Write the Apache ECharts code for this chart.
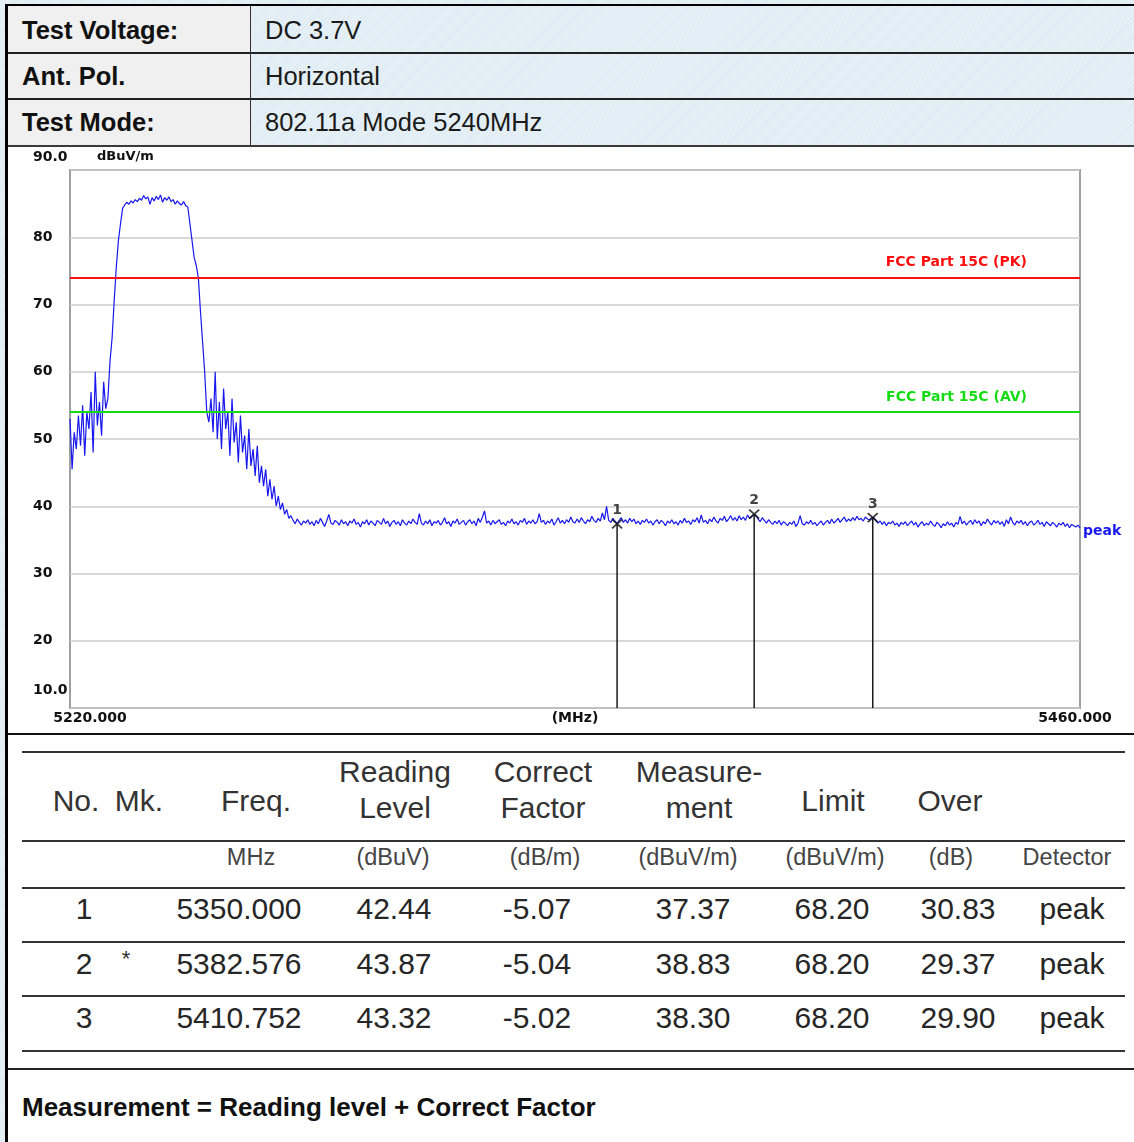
<!DOCTYPE html>
<html>
<head>
<meta charset="utf-8">
<script src="https://cdn.jsdelivr.net/npm/echarts@6/dist/echarts.min.js"></script>
<style>
  html, body { margin: 0; padding: 0; }
  body {
    width: 1134px; height: 1142px; position: relative; overflow: hidden;
    background-color: #e6f1f7;
    background-image: repeating-linear-gradient(135deg, rgba(170,192,205,0.14) 0 1px, transparent 1px 3px);
    font-family: Arial, "Liberation Sans", sans-serif;
  }
  .box { position: absolute; }
  .txt { position: absolute; white-space: nowrap; transform: translate(-50%, -50%); }
  .ltxt { position: absolute; white-space: nowrap; transform: translateY(-50%); }
  #chart { position: absolute; left: 8px; top: 147px; width: 1126px; height: 586px; z-index: 10; }
</style>
</head>
<body>
<div id="page"></div>
<div id="chart"></div>
<script>
// ---- test setup ----
const headerLabels = ['Test Voltage:', 'Ant. Pol.', 'Test Mode:'];
const headerValues = ['DC 3.7V', 'Horizontal', '802.11a Mode 5240MHz'];

// ---- sweep: 5220 - 5460 MHz, peak detector trace ----
const freqStart = 5220;
const freqStop = 5460;
const freqStep = 0.5;
// band edge / channel region (5220 - 5272.5 MHz)
const bandLevels = [
  53.0, 45.5, 51.0, 48.5, 53.5, 49.0, 55.0, 47.5, 54.0, 51.5, 57.0, 48.0, 60.0, 52.0, 55.5, 50.5, 58.5, 54.5,
  56.0, 61.5, 65.0, 70.5, 75.5, 79.5, 82.0, 84.3,
  84.8, 85.2, 84.9, 85.4, 85.1, 85.6, 85.3, 85.8, 85.5, 86.2, 85.7, 86.0, 84.9, 85.9, 85.4,
  86.1, 85.6, 86.3, 85.2, 85.9, 85.5, 86.0, 85.3, 85.6, 84.9, 85.4, 85.0, 84.8, 85.3, 84.7,
  84.5, 82.0, 79.5, 77.0, 75.8, 74.0, 69.0, 64.5, 60.0, 54.0,
  52.5, 56.0, 51.0, 60.0, 50.0, 55.5, 48.5, 57.5, 51.5, 54.0,
  47.5, 56.0, 49.5, 52.5, 46.5, 53.5, 48.0, 50.5, 45.5, 51.5,
  46.0, 48.5, 44.5, 49.0, 43.5, 46.0, 43.0, 45.5, 41.5, 44.0,
  41.0, 43.0, 40.0, 41.5, 39.5, 40.5, 38.8, 39.5, 38.2, 38.6
];
// noise floor (5273 - 5460 MHz)
const floorLevels = [
  37.9, 37.4, 38.1, 37.6, 37.2, 37.8, 37.5, 38.0, 37.3, 37.7, 37.1, 37.9, 37.4, 38.2, 37.6,
  37.0, 37.8, 38.8, 37.5, 37.3, 37.9, 37.6, 37.2, 38.0, 37.4, 37.7, 37.1, 37.8, 37.5, 38.1,
  37.3, 37.6, 36.9, 37.7, 37.4, 38.0, 37.2, 37.8, 37.5, 37.1, 37.9, 37.6, 37.3, 38.2, 37.4,
  37.8, 37.0, 37.6, 37.9, 37.3, 37.7, 37.1, 38.0, 37.5, 37.2, 37.8, 37.4, 38.1, 37.6, 37.3,
  38.9, 37.5, 37.2, 37.8, 37.4, 38.0, 37.1, 37.7, 37.5, 37.9, 37.2, 37.6, 38.3, 37.4, 37.7,
  37.0, 37.8, 37.5, 38.1, 37.3, 37.6, 37.9, 37.2, 37.7, 38.0, 37.4, 37.8, 37.1, 38.2, 37.6,
  38.4, 39.3, 37.5, 37.8, 37.2, 37.9, 37.4, 37.7, 38.0, 37.3, 37.6, 37.1, 37.8, 37.5, 38.1,
  37.4, 37.7, 37.2, 37.9, 37.6, 38.2, 37.3, 37.8, 37.5, 38.0, 37.4, 37.7, 38.9, 37.6, 37.9,
  37.3, 37.8, 37.5, 38.1, 37.2, 37.7, 38.3, 37.5, 37.9, 37.4, 38.0, 37.6, 38.4, 37.7, 37.5,
  38.1, 37.6, 38.3, 37.8, 37.4, 38.0, 37.7, 38.5, 37.9, 37.6, 38.2, 37.8, 39.0, 38.0, 40.0,
  37.9, 37.6, 38.2, 37.8, 37.4, 37.9, 38.3, 37.6, 38.0, 37.5, 38.2, 37.7, 38.1, 37.4, 37.8,
  37.3, 37.9, 37.6, 38.1, 37.5, 37.8, 37.2, 37.7, 38.0, 37.4, 37.9, 37.6, 37.1, 37.8, 37.5,
  38.0, 37.4, 37.7, 37.2, 37.9, 37.5, 38.2, 37.6, 37.8, 37.3, 38.0, 37.7, 38.3, 37.5, 38.7,
  37.6, 37.9, 37.4, 38.1, 37.7, 38.4, 37.8, 37.5, 38.2, 37.9, 38.5, 37.7, 38.1, 38.6, 37.9,
  38.3, 37.8, 38.6, 38.0, 38.4, 37.9, 38.7, 38.2, 38.5, 38.8, 38.6, 38.1, 37.7, 38.3, 37.9,
  37.5, 38.0, 37.6, 37.3, 37.8, 37.4, 37.9, 37.2, 37.7, 37.5, 37.1, 37.6, 37.3, 37.8, 37.0,
  37.5, 38.6, 37.4, 37.2, 37.7, 37.4, 37.9, 37.3, 37.6, 37.1, 37.5, 37.8, 37.2, 37.6, 37.9,
  37.4, 38.1, 37.5, 37.8, 38.2, 37.6, 38.0, 38.4, 37.7, 38.1, 37.8, 38.3, 37.9, 38.5, 38.0,
  38.2, 37.8, 38.4, 38.1, 38.0, 38.3, 38.3, 37.9, 37.5, 37.8, 37.3, 37.7, 37.1, 37.6, 37.4,
  37.8, 37.2, 37.5, 37.0, 37.6, 37.3, 37.7, 37.1, 37.5, 37.8, 37.2, 37.6, 36.9, 37.4, 37.7,
  37.1, 37.5, 37.2, 37.8, 37.3, 37.0, 37.6, 37.3, 36.8, 37.4, 37.1, 37.7, 37.2, 37.5, 36.9,
  37.6, 37.3, 38.5, 37.4, 37.8, 37.2, 37.6, 37.9, 37.3, 38.0, 37.5, 37.8, 37.1, 37.7, 37.4,
  38.1, 37.6, 37.2, 37.9, 37.5, 37.8, 37.3, 37.7, 37.0, 38.0, 37.4, 38.4, 37.6, 37.2, 37.8,
  37.5, 37.9, 37.3, 37.7, 37.1, 37.6, 37.8, 37.2, 37.5, 37.9, 37.3, 37.6, 37.0, 37.7, 37.4,
  37.1, 37.6, 37.3, 36.9, 37.5, 37.2, 37.6, 37.0, 37.4, 36.8, 37.3, 37.1, 36.9, 37.2, 36.8
];

// ---- limits (dBuV/m) ----
const limitPK = 74;
const limitAV = 54;
const limitPKName = 'FCC Part 15C (PK)';
const limitAVName = 'FCC Part 15C (AV)';

// ---- axis ----
const yMin = 10, yMax = 90, yStep = 10;
const yUnit = 'dBuV/m';
const xUnit = '(MHz)';
const traceName = 'peak';

// ---- marker table ----
const tableHeader = ['No.', 'Mk.', 'Freq.', 'Reading\nLevel', 'Correct\nFactor', 'Measure-\nment', 'Limit', 'Over', ''];
const tableUnits = ['', '', 'MHz', '(dBuV)', '(dB/m)', '(dBuV/m)', '(dBuV/m)', '(dB)', 'Detector'];
const markerNo = ['1', '2', '3'];
const markerMk = ['', '*', ''];
const markerFreq = [5350.000, 5382.576, 5410.752];
const readingLevel = [42.44, 43.87, 43.32];
const correctFactor = [-5.07, -5.04, -5.02];
const measurement = [37.37, 38.83, 38.30];
const limitLevel = [68.20, 68.20, 68.20];
const overMargin = [30.83, 29.37, 29.90];
const detector = ['peak', 'peak', 'peak'];
const footnote = 'Measurement = Reading level + Correct Factor';

// ================= page layout =================
const page = document.getElementById('page');
function box(l, t, w, h, bg, z) {
  const d = document.createElement('div');
  d.className = 'box';
  d.style.cssText = `left:${l}px;top:${t}px;width:${w}px;height:${h}px;background:${bg};z-index:${z || 1}`;
  page.appendChild(d);
  return d;
}
function text(str, x, y, css, cls) {
  const d = document.createElement('div');
  d.className = cls || 'txt';
  d.style.cssText = `left:${x}px;top:${y}px;z-index:5;` + css;
  d.textContent = str;
  page.appendChild(d);
  return d;
}

// header block
const rowTop = [6, 53, 99];
const rowH = [46, 45, 46];
const rowMid = [30, 76, 122];
rowTop.forEach((t, i) => box(8, t, 242, rowH[i], '#f0f0f0'));
box(5, 4, 1129, 2, '#000', 3);           // top frame
box(5, 4, 3, 1138, '#000', 3);           // left frame
box(8, 52, 1126, 1.5, '#222', 3);
box(8, 98, 1126, 1.5, '#222', 3);
box(8, 145, 1126, 2, '#3a3a3a', 3);
box(250, 6, 1.3, 139, '#333', 3);
headerLabels.forEach((s, i) => text(s, 22, rowMid[i], 'font-weight:bold;font-size:25.5px;color:#111;', 'ltxt'));
headerValues.forEach((s, i) => text(s, 265, rowMid[i], 'font-size:25.5px;color:#1a1a1a;', 'ltxt'));

// white panels for chart and table
box(8, 147, 1126, 586, '#fff');
box(8, 733, 1126, 1.5, '#111', 3);
box(8, 734.5, 1126, 408, '#fff');
box(8, 1068, 1126, 1.5, '#222', 3);

// table rules
[751, 840, 887, 941, 995, 1050].forEach(y => box(22, y, 1103, 1.6, '#333', 3));

// table text
const headCx = [76, 139, 256, 395, 543, 699, 833, 950, 1067];
const unitCx = [76, 139, 251, 393, 545, 688, 835, 951, 1067];
const dataCx = [84, 126, 239, 394, 537, 693, 832, 958, 1072];
const rowCy = [909, 964, 1018];
tableHeader.forEach((s, i) => {
  if (!s) return;
  const lines = s.split('\n');
  if (lines.length === 1) {
    text(s, headCx[i], 801, 'font-size:30px;color:#333;');
  } else {
    lines.forEach((ln, k) => text(ln, headCx[i], 772 + k * 36, 'font-size:30px;color:#333;'));
  }
});
tableUnits.forEach((s, i) => { if (s) text(s, unitCx[i], 857, 'font-size:23.5px;color:#444;'); });
markerNo.forEach((n, r) => {
  const cells = [n, markerMk[r], markerFreq[r].toFixed(3), readingLevel[r].toFixed(2),
    correctFactor[r].toFixed(2), measurement[r].toFixed(2), limitLevel[r].toFixed(2),
    overMargin[r].toFixed(2), detector[r]];
  cells.forEach((c, i) => {
    if (!c) return;
    const css = i === 1 ? 'font-size:22px;color:#333;margin-top:-5px;' : 'font-size:30px;color:#262626;';
    text(c, dataCx[i], rowCy[r], css);
  });
});
text(footnote, 22, 1107, 'font-weight:bold;font-size:26px;color:#111;', 'ltxt');

// ================= chart =================
const levels = bandLevels.concat(floorLevels);
const trace = levels.map((v, i) => [freqStart + i * freqStep, v]);
const axisFont = { fontFamily: 'DejaVu Sans', fontWeight: 'bold', fontSize: 14, color: '#111' };

function limitSeries(name, value, color) {
  return {
    name: name, type: 'line', data: [], z: 4, silent: true,
    markLine: {
      silent: true, symbol: 'none', animation: false,
      lineStyle: { color: color, width: 2, type: 'solid' },
      label: {
        show: true, position: 'insideEndTop', formatter: name, distance: 8,
        padding: [0, 45, 0, 0], color: color,
        fontFamily: 'DejaVu Sans', fontWeight: 'bold', fontSize: 14
      },
      data: [{ yAxis: value }]
    }
  };
}

const stems = markerFreq.map((f, i) => ({
  name: 'marker ' + markerNo[i], type: 'line', silent: true, z: 5,
  showSymbol: false, symbol: 'none',
  lineStyle: { color: '#1a1a1a', width: 1.5 },
  data: [[f, yMin], [f, measurement[i]]]
}));

const chart = echarts.init(document.getElementById('chart'), null, { renderer: 'canvas' });
chart.setOption({
  animation: false,
  grid: {
    left: 62, top: 23, right: 54, bottom: 25,
    outerBoundsMode: 'none', containLabel: false,
    show: true, borderColor: '#a0a0a0', borderWidth: 2, backgroundColor: '#fff'
  },
  xAxis: {
    type: 'value', min: freqStart, max: freqStop,
    axisLine: { show: false }, axisTick: { show: false }, splitLine: { show: false },
    axisLabel: Object.assign({
      customValues: [freqStart, freqStop], margin: 3,
      formatter: v => v === freqStart ? '{a|' + v.toFixed(3) + '}' : '{b|' + v.toFixed(3) + '}',
      rich: {
        a: Object.assign({ padding: [0, 0, 0, 40] }, axisFont),
        b: Object.assign({ padding: [0, 10, 0, 0] }, axisFont)
      }
    }, axisFont),
    name: xUnit, nameLocation: 'middle', nameGap: 3, nameMoveOverlap: false,
    nameTextStyle: Object.assign({ verticalAlign: 'top' }, axisFont)
  },
  yAxis: {
    type: 'value', min: yMin, max: yMax, interval: yStep,
    axisLine: { show: false }, axisTick: { show: false },
    splitLine: { show: true, lineStyle: { color: '#cdcdcd', width: 1.5 } },
    axisLabel: Object.assign({
      align: 'left', margin: 37,
      formatter: v => v === yMax ? '{t|' + v.toFixed(1) + '}' : (v === yMin ? '{m|' + v.toFixed(1) + '}' : String(v)),
      rich: {
        t: Object.assign({ padding: [0, 0, 26, 0] }, axisFont),
        m: Object.assign({ padding: [0, 0, 36, 0] }, axisFont)
      }
    }, axisFont),
    name: yUnit, nameLocation: 'end', nameGap: 7, nameMoveOverlap: false,
    nameTextStyle: Object.assign({ align: 'left', padding: [0, 0, 0, 27] }, axisFont, { fontSize: 13 })
  },
  series: [
    {
      name: traceName, type: 'line', data: trace, z: 3,
      showSymbol: false, symbol: 'none', silent: true,
      lineStyle: { color: '#1818ee', width: 1.2 },
      endLabel: {
        show: true, formatter: traceName, distance: 3, offset: [0, 4],
        color: '#1818ee', fontFamily: 'DejaVu Sans', fontWeight: 'bold', fontSize: 14
      }
    },
    limitSeries(limitPKName, limitPK, '#ff1010'),
    limitSeries(limitAVName, limitAV, '#14dc14'),
    ...stems,
    {
      name: 'markers', type: 'scatter', z: 6, silent: true,
      symbol: 'path://M0,0L10,9M10,0L0,9', symbolSize: [10, 9], symbolKeepAspect: false,
      itemStyle: { color: 'rgba(0,0,0,0)', borderColor: '#111', borderWidth: 1.8 },
      label: {
        show: true, position: 'top', distance: 1,
        formatter: p => markerNo[p.dataIndex],
        fontFamily: 'DejaVu Sans', fontWeight: 'bold', fontSize: 14, color: '#111'
      },
      data: markerFreq.map((f, i) => [f, measurement[i]])
    }
  ]
});
</script>
</body>
</html>
